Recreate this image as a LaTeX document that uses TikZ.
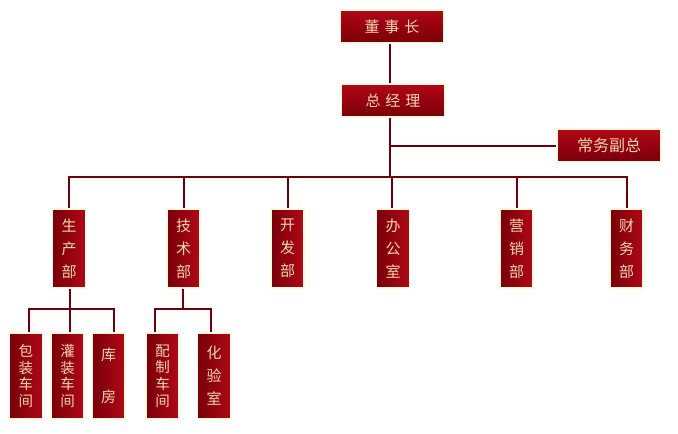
\documentclass[tikz,border=0pt]{standalone}
\usepackage{fontspec}
\setmainfont{Noto Sans CJK SC}
\definecolor{linec}{RGB}{112,0,8}
\definecolor{boxd}{RGB}{120,0,10}
\definecolor{boxm}{RGB}{150,2,16}
\definecolor{boxl}{RGB}{176,8,22}
\definecolor{txtc}{RGB}{243,214,175}
\definecolor{glow}{RGB}{255,248,222}
\tikzset{
  box/.style={draw=glow, line width=1.4pt, left color=boxd, middle color=boxm, right color=boxl,
    text=txtc, inner sep=0pt, align=center, font=\fontsize{15}{23}\selectfont},
  hbox/.style={box, top color=boxl, bottom color=boxd, middle color=boxm,
    minimum width=104pt, minimum height=33pt},
  dbox/.style={box, minimum width=33pt, minimum height=79pt},
  sbox/.style={box, minimum width=33pt, minimum height=86pt},
  conn/.style={draw=linec, line width=2pt}
}
\begin{document}
\begin{tikzpicture}[x=1pt,y=-1pt]
\useasboundingbox (0,0) rectangle (678,434);
\coordinate (bar) at (390,177);
\coordinate (vp) at (390,145.5);
\coordinate (sb1) at (70,309);
\coordinate (sb2) at (183,309);

\node[hbox] (top) at (392,26.5) {董\hspace{5pt}事\hspace{5pt}长};
\node[hbox] (gm) at (393,100.5) {总\hspace{5pt}经\hspace{5pt}理};
\node[hbox] (vice) at (609,145.5) {\fontsize{16}{20}\selectfont 常务副总};

\node[dbox] (prod) at (69,248.5) {生\\产\\部};
\node[dbox] (tech) at (183.5,248.5) {技\\术\\部};
\node[dbox] (dev) at (287.5,248.5) {开\\发\\部};
\node[dbox] (off) at (393,248.5) {办\\公\\室};
\node[dbox] (mkt) at (516.5,248.5) {营\\销\\部};
\node[dbox] (fin) at (626.5,248.5) {财\\务\\部};

\node[sbox, font=\fontsize{14.5}{16.7}\selectfont] (pack) at (26,376) {包\\装\\车\\间};
\node[sbox, font=\fontsize{14.5}{16.7}\selectfont] (fill) at (67.5,376) {灌\\装\\车\\间};
\node[sbox, font=\fontsize{15}{42}\selectfont] (store) at (108.5,376) {库\\房};
\node[sbox, font=\fontsize{14.5}{16.7}\selectfont] (mix) at (162.5,376) {配\\制\\车\\间};
\node[sbox] (lab) at (214,376) {化\\验\\室};

\draw[conn] (top.south -| 390,0) -- (gm.north -| 390,0);
\draw[conn] (gm.south -| 390,0) -- (bar);
\draw[conn] (vp) -- (vice.west);
\draw[conn] (prod.north) -- (prod.north |- bar) -- (fin.north |- bar) -- (fin.north);
\draw[conn] (tech.north) -- (tech.north |- bar);
\draw[conn] (dev.north) -- (dev.north |- bar);
\draw[conn] ([xshift=-1pt]off.north) -- ([xshift=-1pt]off.north |- bar);
\draw[conn] (mkt.north) -- (mkt.north |- bar);
\draw[conn] (prod.south -| sb1) -- (sb1);
\draw[conn] ([xshift=3pt]pack.north) -- ([xshift=3pt]pack.north |- sb1) -- ([xshift=5.5pt]store.north |- sb1) -- ([xshift=5.5pt]store.north);
\draw[conn] ([xshift=2.5pt]fill.north) -- ([xshift=2.5pt]fill.north |- sb1);
\draw[conn] (tech.south -| sb2) -- (sb2);
\draw[conn] ([xshift=-7.5pt]mix.north) -- ([xshift=-7.5pt]mix.north |- sb2) -- ([xshift=-3pt]lab.north |- sb2) -- ([xshift=-3pt]lab.north);
\end{tikzpicture}
\end{document}
